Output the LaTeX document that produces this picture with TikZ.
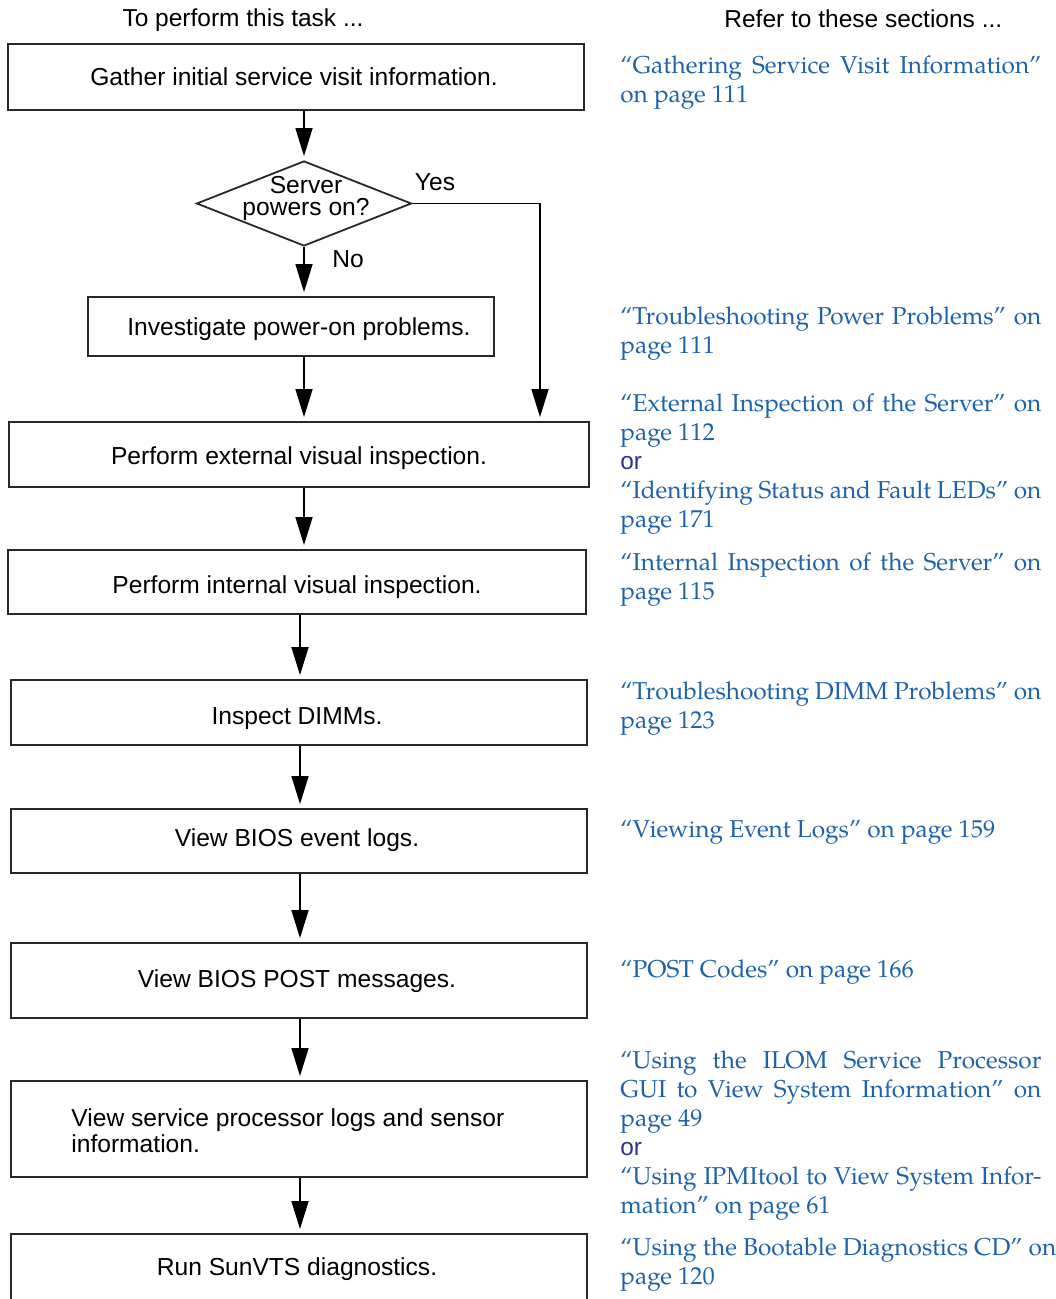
\documentclass[tikz,border=0pt]{standalone}
\usepackage{fontspec}
\usetikzlibrary{arrows.meta,shapes.geometric}
\newfontfamily\sansf{Liberation Sans}
\newfontfamily\palf{texgyrepagella-regular.otf}
\definecolor{linkblue}{RGB}{28,99,171}
\definecolor{orblue}{RGB}{46,49,146}
\definecolor{boxc}{RGB}{40,40,40}
\newcommand\jl[1]{\makebox[210.5pt][s]{#1}}
\begin{document}
\begin{tikzpicture}[x=0.5pt,y=-0.5pt,
  boxn/.style={draw=boxc, line width=0.9pt, rectangle, inner sep=0pt},
  txt/.style={inner sep=0pt, font=\sansf\fontsize{12.3}{14}\selectfont, text height=8.8pt, text depth=0pt},
  arr/.style={draw=black, line width=0.75pt, -{Triangle[length=14pt,width=8.5pt]}, shorten >=2pt},
  refn/.style={anchor=base west, inner sep=0pt, text=linkblue, font=\palf\fontsize{12.2}{14.5}\selectfont},
  orn/.style={anchor=base west, inner sep=0pt, text=orblue, font=\sansf\fontsize{12.2}{14.5}\selectfont},
  head/.style={inner sep=0pt, font=\sansf\fontsize{12.25}{14.5}\selectfont}]
\useasboundingbox (0,0) rectangle (1055,1299);
\clip (0,0) rectangle (1055,1299);
\fill[white] (0,0) rectangle (1055,1299);

% headers
\node[head, anchor=base] (h1) at (243,27) {To perform this task ...};
\node[head, anchor=base west] (h2) at (724,28) {Refer to these sections ...};

% boxes
\node[boxn, minimum width=288pt, minimum height=33pt] (b1) at (296,77) {};
\node[boxn, minimum width=203pt, minimum height=29.5pt] (b2) at (291,326.5) {};
\node[boxn, minimum width=290pt, minimum height=32.5pt] (b3) at (299,454.5) {};
\node[boxn, minimum width=289pt, minimum height=32pt] (b4) at (297,582) {};
\node[boxn, minimum width=288pt, minimum height=32.5pt] (b5) at (299,712.5) {};
\node[boxn, minimum width=288pt, minimum height=32pt] (b6) at (299,841) {};
\node[boxn, minimum width=288pt, minimum height=37.5pt] (b7) at (299,980.5) {};
\node[boxn, minimum width=288pt, minimum height=48pt] (b8) at (299,1129) {};
\node[boxn, minimum width=288pt, minimum height=53pt] (b9) at (299,1287) {};

\node[draw=boxc, line width=0.9pt, diamond, minimum width=107.5pt, minimum height=42.5pt, inner sep=0pt] (dia) at (304,203.5) {};

% box texts
\node[txt] (t1) at (294,77) {Gather initial service visit information.};
\node[txt] (t2) at (299,327) {Investigate power-on problems.};
\node[txt] (t3) at (299,456) {Perform external visual inspection.};
\node[txt] (t4) at (297,585) {Perform internal visual inspection.};
\node[txt] (t5) at (297,716) {Inspect DIMMs.};
\node[txt] (t6) at (297,838) {View BIOS event logs.};
\node[txt] (t7) at (297,979) {View BIOS POST messages.};
\node[inner sep=0pt, anchor=west, align=left, font=\sansf\fontsize{12.3}{13}\selectfont] (t8) at (71,1131) {View service processor logs and sensor\\information.};
\node[txt] (t9) at (297,1267) {Run SunVTS diagnostics.};
\node[inner sep=0pt, align=center, font=\sansf\fontsize{12.3}{11}\selectfont] (td) at (306,198) {Server\\powers on?};
\node[txt] (yes) at (435,182) {Yes};
\node[txt] (no) at (348,259) {No};

% connectors
\coordinate (ax2) at (304,0);
\coordinate (ax3) at (300,0);
\coordinate (ay) at (540,0);
\draw[arr] (b1.south -| dia.north) -- (dia.north);
\draw[arr] (dia.south) -- (dia.south |- b2.north);
\draw[arr] (dia.east) -| (b3.north -| ay);
\draw[arr] (b2.south -| ax2) -- (b3.north -| ax2);
\draw[arr] (b3.south -| ax2) -- (b4.north -| ax2);
\draw[arr] (b4.south -| ax3) -- (b5.north -| ax3);
\draw[arr] (b5.south -| ax3) -- (b6.north -| ax3);
\draw[arr] (b6.south -| ax3) -- (b7.north -| ax3);
\draw[arr] (b7.south -| ax3) -- (b8.north -| ax3);
\draw[arr] (b8.south -| ax3) -- (b9.north -| ax3);

% references
\node[refn] (r1a) at (620,74) {\jl{“Gathering Service Visit Information”}};
\node[refn] (r1b) at (620,103) {on page 111};
\node[refn] (r2a) at (620,324) {\jl{“Troubleshooting Power Problems” on}};
\node[refn] (r2b) at (620,353) {page 111};
\node[refn] (r3a) at (620,411) {\jl{“External Inspection of the Server” on}};
\node[refn] (r3b) at (620,440) {page 112};
\node[orn] (r3c) at (620,469) {or};
\node[refn] (r3d) at (620,498) {\jl{“Identifying Status and Fault LEDs” on}};
\node[refn] (r3e) at (620,527) {page 171};
\node[refn] (r4a) at (620,570) {\jl{“Internal Inspection of the Server” on}};
\node[refn] (r4b) at (620,599) {page 115};
\node[refn] (r5a) at (620,699) {\jl{“Troubleshooting DIMM Problems” on}};
\node[refn] (r5b) at (620,728) {page 123};
\node[refn] (r6a) at (620,837) {“Viewing Event Logs” on page 159};
\node[refn] (r7a) at (620,977) {“POST Codes” on page 166};
\node[refn] (r8a) at (620,1068) {\jl{“Using the ILOM Service Processor}};
\node[refn] (r8b) at (620,1097) {\jl{GUI to View System Information” on}};
\node[refn] (r8c) at (620,1126) {page 49};
\node[orn] (r8d) at (620,1155) {or};
\node[refn] (r8e) at (620,1184) {\jl{“Using IPMItool to View System Infor-}};
\node[refn] (r8f) at (620,1213) {mation” on page 61};
\node[refn] (r9a) at (620,1255) {“Using the Bootable Diagnostics CD” on};
\node[refn] (r9b) at (620,1284) {page 120};
\end{tikzpicture}
\end{document}
